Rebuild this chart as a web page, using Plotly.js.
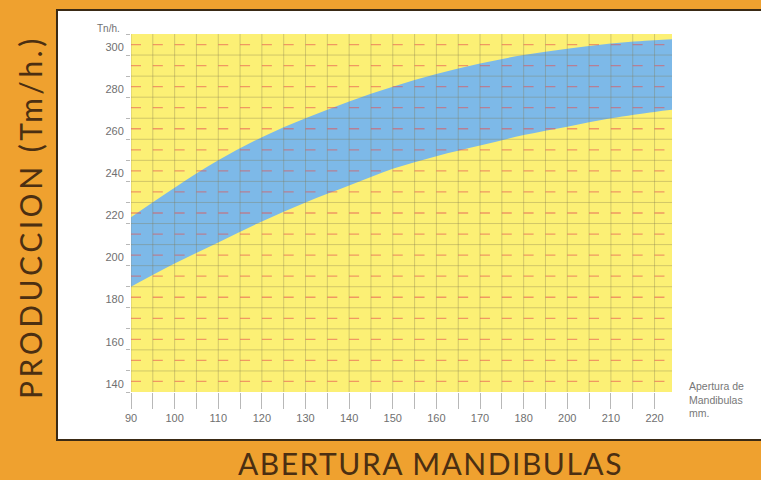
<!DOCTYPE html>
<html>
<head>
<meta charset="utf-8">
<script src="https://cdn.plot.ly/plotly-3.0.1.min.js"></script>
<style>html,body{margin:0;padding:0;background:#EFA12F;}#chart{width:761px;height:480px;}</style>
</head>
<body>
<div id="chart"></div>
<script>
// Tick labels along the x axis (as printed; 190 is absent in the original)
const tickLabels = ['90','100','110','120','130','140','150','160','170','180','200','210','220'];
// Position of each band sample along the x axis (in tick-label steps)
const bandPos = [0,1,2,3,4,5,6,7,8,9,10,11,12,12.4];
// Production band, Tn/h.
const upperProd = [223,237,250,261,270,278,285,291,296,300,303,305.5,307,307.5];
const lowerProd = [190,201,211,221,230,238,246,252,257,262,266,270,273,274];
const yTicks = [140,160,180,200,220,240,260,280,300];

const xMax = bandPos[bandPos.length-1];
const yMin = 140, yMax = 310;

const shapes = [];
// white panel
shapes.push({type:'rect', xref:'paper', yref:'paper', x0:-0.1368, x1:1.25, y0:-0.134, y1:1.067,
  fillcolor:'#FFFFFF', line:{color:'#3a2a15', width:2}, layer:'below'});
// yellow plot area
shapes.push({type:'rect', xref:'paper', yref:'paper', x0:0, x1:1, y0:0, y1:1,
  fillcolor:'#FCF075', line:{width:0}, layer:'below'});
// vertical grid lines every half step
for (let k = 0; k * 0.5 <= xMax; k++) {
  shapes.push({type:'line', xref:'x', yref:'y', x0:k*0.5, x1:k*0.5, y0:yMin, y1:yMax,
    line:{color:'rgba(130,120,80,0.34)', width:1}, layer:'above'});
}
// horizontal grid lines every 10
for (let v = yMin + 10; v < yMax; v += 10) {
  shapes.push({type:'line', xref:'x', yref:'y', x0:0, x1:xMax, y0:v, y1:v,
    line:{color:'rgba(130,120,80,0.34)', width:1}, layer:'above'});
}
// red dashed lines midway
for (let v = yMin + 5; v < yMax; v += 10) {
  shapes.push({type:'line', xref:'x', yref:'y', x0:0, x1:xMax, y0:v, y1:v,
    line:{color:'rgba(230,80,80,0.55)', width:1.3, dash:'10px,11.81px'}, layer:'above'});
}

const traces = [
  {x: bandPos, y: lowerProd, mode:'lines', line:{width:0, color:'rgba(0,0,0,0)', shape:'spline'},
   hoverinfo:'skip', showlegend:false},
  {x: bandPos, y: upperProd, mode:'lines', fill:'tonexty', fillcolor:'#7DB9E8',
   line:{width:0, color:'rgba(0,0,0,0)', shape:'spline'}, hoverinfo:'skip', showlegend:false}
];

const tickFont = {family:'Liberation Sans, Arial, sans-serif', size:11, color:'#707070'};
const layout = {
  width:761, height:480,
  margin:{l:131, r:89, t:34, b:88},
  paper_bgcolor:'#EFA12F', plot_bgcolor:'rgba(0,0,0,0)',
  showlegend:false,
  xaxis:{range:[0,xMax], tickvals: tickLabels.map((_,i)=>i), ticktext: tickLabels,
    ticks:'outside', ticklen:16, tickcolor:'#b8b8b8', tickwidth:1,
    showgrid:false, zeroline:false, showline:false, tickfont:tickFont, fixedrange:true,
    minor:{tick0:0, dtick:0.5, ticks:'outside', ticklen:16, tickcolor:'#b8b8b8', showgrid:false}},
  yaxis:{range:[yMin,yMax], tickvals: yTicks, ticks:'outside', ticklen:4, tickcolor:'#b8b8b8',
    showgrid:false, zeroline:false, showline:false, tickfont:tickFont, ticklabelstandoff:4,
    ticklabelposition:'outside top', fixedrange:true,
    minor:{tick0:140, dtick:10, ticks:'outside', ticklen:4, tickcolor:'#b8b8b8', showgrid:false}},
  shapes: shapes,
  annotations:[
    {text:'Tn/h.', xref:'paper', yref:'paper', x:-0.042, y:1.014, xanchor:'center', yanchor:'middle',
     showarrow:false, font:{family:'Liberation Sans, Arial, sans-serif', size:10, color:'#707070'}},
    {text:'Apertura de<br>Mandibulas<br>mm.', xref:'paper', yref:'paper', x:1.028, y:-0.02,
     xanchor:'left', yanchor:'middle', align:'left', showarrow:false,
     font:{family:'Liberation Sans, Arial, sans-serif', size:10.5, color:'#777'}},
    {text:'<span style="letter-spacing:1.5px">ABERTURA MANDIBULAS</span>', xref:'paper', yref:'paper', x:0.5545, y:-0.198,
     xanchor:'center', yanchor:'middle', showarrow:false,
     font:{family:'Lato, sans-serif', size:30, color:'#4B2F12'}},
    {text:'<span style="letter-spacing:3.5px">PRODUCCION (Tm/h.)</span>', xref:'paper', yref:'paper', x:-0.1867, y:0.489, textangle:-90,
     xanchor:'center', yanchor:'middle', showarrow:false,
     font:{family:'Lato, sans-serif', size:30, color:'#4B2F12'}}
  ]
};

Plotly.newPlot('chart', traces, layout, {displayModeBar:false, staticPlot:true});
</script>
</body>
</html>
